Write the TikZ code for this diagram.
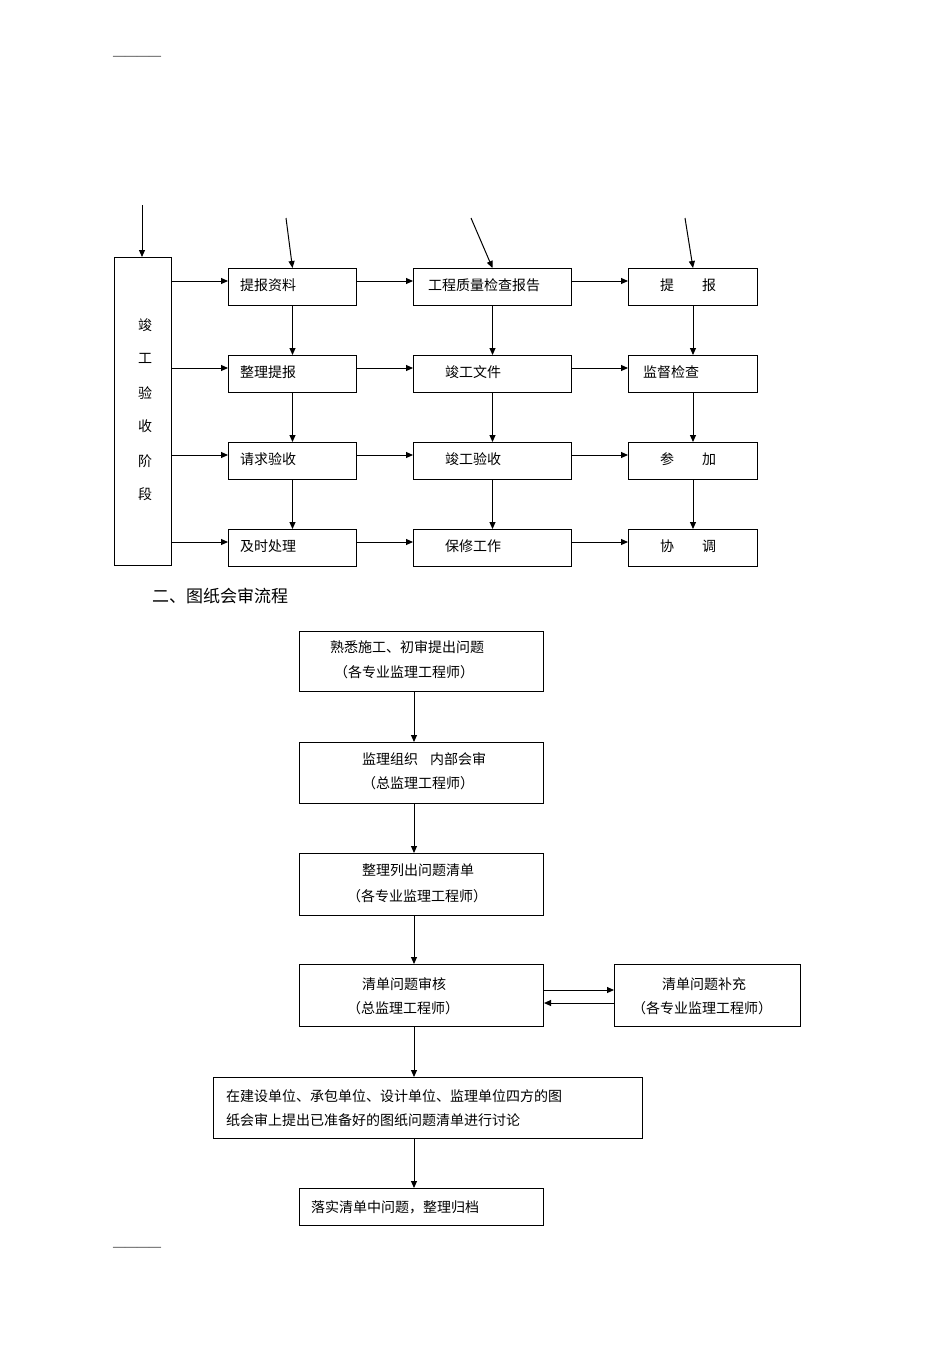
\documentclass[tikz,border=0pt]{standalone}
\usepackage{fontspec}
\setmainfont{Liberation Serif}
\newfontfamily\cjk{Noto Sans CJK SC}
\usetikzlibrary{arrows.meta}
\begin{document}
\begin{tikzpicture}[x=1pt,y=-1pt,
  bx/.style={draw,line width=1pt,inner sep=0pt,anchor=north west},
  tx/.style={font=\cjk\fontsize{14}{17}\selectfont,inner sep=0pt},
  ar/.style={-{Triangle[length=7pt,width=6pt]},line width=1pt}]
\useasboundingbox (0,0) rectangle (950,1345);
\node[tx,font=\fontsize{12}{12}\selectfont,anchor=west] (d1) at (113,58) {------------};
\node[tx,font=\fontsize{12}{12}\selectfont,anchor=west] (d2) at (113,1249) {------------};
% tall box
\node[bx,minimum width=57pt,minimum height=308pt] (L) at (114,257) {};
\coordinate (Lt) at (142,205);
\draw[ar] (Lt) -- (L.north -| Lt);
\foreach \c/\y in {竣/325,工/358,验/393,收/426,阶/461,段/494}
  \node[tx] at (145,\y) {\c};
% grid
\def\rows{268,355,442,529}
\foreach \r/\y in {1/268,2/355,3/442,4/529}{
  \node[bx,minimum width=128pt,minimum height=37pt] (a\r) at (228,\y) {};
  \node[bx,minimum width=158pt,minimum height=37pt] (b\r) at (413,\y) {};
  \node[bx,minimum width=129pt,minimum height=37pt] (c\r) at (628,\y) {};
  \coordinate (l\r) at (171,\y+13);
  \draw[ar] (l\r) -- (a\r.west |- l\r);
  \draw[ar] (a\r.east |- l\r) -- (b\r.west |- l\r);
  \draw[ar] (b\r.east |- l\r) -- (c\r.west |- l\r);
}
\foreach \r in {a,b,c}{
  \foreach \i/\j in {1/2,2/3,3/4} \draw[ar] (\r\i.south) -- (\r\j.north);
}
\coordinate (ta) at (286,218); \coordinate (tb) at (471,218); \coordinate (tc) at (685,218);
\draw[ar] (ta) -- (a1.north); \draw[ar] (tb) -- (b1.north); \draw[ar] (tc) -- (c1.north);
\node[tx,anchor=west] at (240,285) {提报资料};
\node[tx,anchor=west] at (240,372) {整理提报};
\node[tx,anchor=west] at (240,459) {请求验收};
\node[tx,anchor=west] at (240,546) {及时处理};
\node[tx,anchor=west] at (428,285) {工程质量检查报告};
\node[tx,anchor=west] at (445,372) {竣工文件};
\node[tx,anchor=west] at (445,459) {竣工验收};
\node[tx,anchor=west] at (445,546) {保修工作};
\node[tx,anchor=west] at (660,285) {提\hspace{28pt}报};
\node[tx,anchor=west] at (643,372) {监督检查};
\node[tx,anchor=west] at (660,459) {参\hspace{28pt}加};
\node[tx,anchor=west] at (660,546) {协\hspace{28pt}调};
\node[tx,anchor=west,font=\cjk\fontsize{17}{20}\selectfont] (h) at (152,596) {二、图纸会审流程};
% lower flow
\node[bx,minimum width=244pt,minimum height=60pt] (A) at (299,631) {};
\node[bx,minimum width=244pt,minimum height=61pt] (B) at (299,742) {};
\node[bx,minimum width=244pt,minimum height=62pt] (C) at (299,853) {};
\node[bx,minimum width=244pt,minimum height=62pt] (D) at (299,964) {};
\node[bx,minimum width=186pt,minimum height=62pt] (E) at (614,964) {};
\node[bx,minimum width=429pt,minimum height=61pt] (F) at (213,1077) {};
\node[bx,minimum width=244pt,minimum height=37pt] (G) at (299,1188) {};
\node[tx,anchor=west] at (330,647) {熟悉施工、初审提出问题};
\node[tx,anchor=west] at (334,672) {（各专业监理工程师）};
\node[tx,anchor=west] at (362,759) {监理组织\hspace{12pt}内部会审};
\node[tx,anchor=west] at (362,783) {（总监理工程师）};
\node[tx,anchor=west] at (362,870) {整理列出问题清单};
\node[tx,anchor=west] at (347,896) {（各专业监理工程师）};
\node[tx,anchor=west] at (362,984) {清单问题审核};
\node[tx,anchor=west] at (347,1008) {（总监理工程师）};
\node[tx,anchor=west] at (662,984) {清单问题补充};
\node[tx,anchor=west] at (632,1008) {（各专业监理工程师）};
\node[tx,anchor=west] at (226,1096) {在建设单位、承包单位、设计单位、监理单位四方的图};
\node[tx,anchor=west] at (226,1120) {纸会审上提出已准备好的图纸问题清单进行讨论};
\node[tx,anchor=west] at (311,1207) {落实清单中问题，整理归档};
\draw[ar] (A.south -| 414,0) -- (B.north -| 414,0);
\draw[ar] (B.south -| 414,0) -- (C.north -| 414,0);
\draw[ar] (C.south -| 414,0) -- (D.north -| 414,0);
\draw[ar] (D.south -| 414,0) -- (F.north -| 414,0);
\draw[ar] (F.south -| 414,0) -- (G.north -| 414,0);
\draw[ar] (D.east |- 0,990) -- (E.west |- 0,990);
\draw[ar] (E.west |- 0,1003) -- (D.east |- 0,1003);
\end{tikzpicture}
\end{document}
